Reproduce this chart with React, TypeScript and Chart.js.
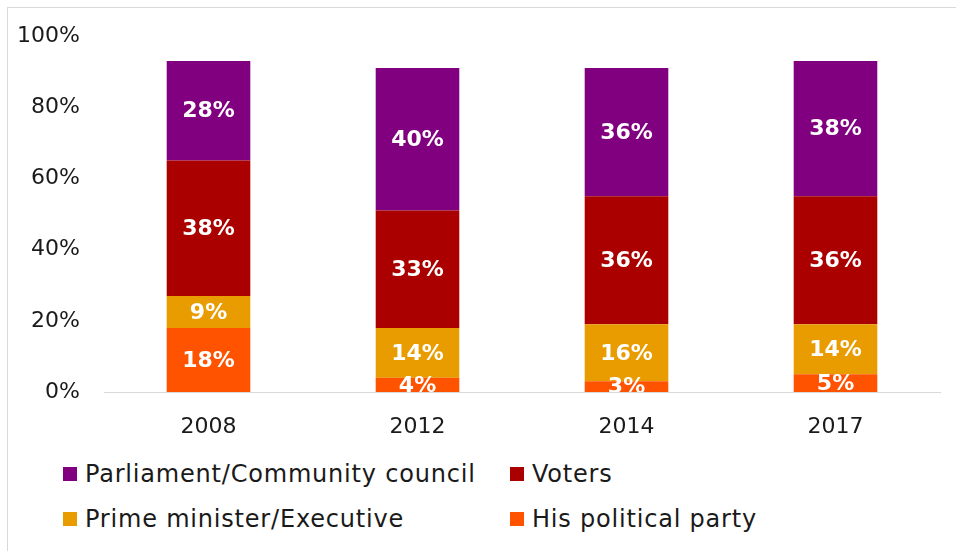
import React, { useEffect, useRef } from "react";
import { Chart, registerables } from "chart.js";

Chart.register(...registerables);

const categories = ["2008", "2012", "2014", "2017"];
const seriesNames = [
  "His political party",
  "Prime minister/Executive",
  "Voters",
  "Parliament/Community council",
];
const partyValues = [18, 4, 3, 5];
const primeMinisterValues = [9, 14, 16, 14];
const votersValues = [38, 33, 36, 36];
const parliamentValues = [28, 40, 36, 38];
const seriesColors = ["#FF5300", "#E89C00", "#AA0000", "#800080"];
const yTickValues = [0, 20, 40, 60, 80, 100];

const legendRows = [
  [
    { name: "Parliament/Community council", color: "#800080" },
    { name: "Voters", color: "#AA0000" },
  ],
  [
    { name: "Prime minister/Executive", color: "#E89C00" },
    { name: "His political party", color: "#FF5300" },
  ],
];

const FONT = "'DejaVu Sans', sans-serif";

const labelPlugin = {
  id: "barLabels",
  afterDatasetsDraw(chart: any) {
    const ctx = chart.ctx;
    const area = chart.chartArea;
    ctx.save();
    ctx.beginPath();
    ctx.rect(area.left, area.top, area.right - area.left, area.bottom - area.top);
    ctx.clip();
    ctx.fillStyle = "#ffffff";
    ctx.font = `bold 22px ${FONT}`;
    ctx.textAlign = "center";
    ctx.textBaseline = "middle";
    chart.data.datasets.forEach((ds: any, di: number) => {
      const meta = chart.getDatasetMeta(di);
      meta.data.forEach((el: any, i: number) => {
        const v = ds.data[i];
        const y = (el.y + el.base) / 2;
        ctx.fillText(`${v}%`, el.x, y + 1);
      });
    });
    ctx.restore();
  },
};

export default function App() {
  const ref = useRef<HTMLCanvasElement | null>(null);

  useEffect(() => {
    if (!ref.current) return;
    const chart = new Chart(ref.current, {
      type: "bar",
      data: {
        labels: categories,
        datasets: [
          { label: seriesNames[0], data: partyValues, backgroundColor: seriesColors[0] },
          { label: seriesNames[1], data: primeMinisterValues, backgroundColor: seriesColors[1] },
          { label: seriesNames[2], data: votersValues, backgroundColor: seriesColors[2] },
          { label: seriesNames[3], data: parliamentValues, backgroundColor: seriesColors[3] },
        ],
      },
      options: {
        responsive: false,
        animation: false,
        layout: { padding: { top: 28, right: 16, left: 0, bottom: 0 } },
        plugins: {
          legend: { display: false },
          tooltip: { enabled: false },
        },
        datasets: {
          bar: { categoryPercentage: 0.4, barPercentage: 1 },
        },
        scales: {
          x: {
            stacked: true,
            grid: { display: false, drawTicks: false },
            border: { display: true, color: "#d9d9d9", width: 1 },
            ticks: {
              color: "#1a1a1a",
              font: { family: FONT, size: 22 },
              padding: 22,
            },
            afterFit(scale: any) {
              scale.height = 56;
              scale.paddingLeft = 0;
              scale.paddingRight = 0;
            },
          },
          y: {
            stacked: true,
            min: 0,
            max: 100,
            grid: { display: false, drawTicks: false },
            border: { display: false },
            afterBuildTicks(scale: any) {
              scale.ticks = yTickValues.map((v) => ({ value: v }));
            },
            ticks: {
              color: "#1a1a1a",
              font: { family: FONT, size: 22 },
              padding: 24,
              callback: (v: any) => `${v}%`,
            },
            afterFit(scale: any) {
              scale.width = 96;
              scale.paddingTop = 0;
              scale.paddingBottom = 0;
            },
          },
        },
      },
      plugins: [labelPlugin],
    });
    return () => chart.destroy();
  }, []);

  return (
    <div
      style={{
        position: "absolute",
        left: 7,
        top: 7,
        width: 949,
        height: 544,
        borderTop: "1px solid #d9d9d9",
        borderLeft: "1px solid #d9d9d9",
        background: "#fff",
      }}
    >
      <canvas ref={ref} width={948} height={440} style={{ position: "absolute", left: 0, top: 0 }} />
      {legendRows.map((row, ri) =>
        row.map((item, ci) => (
          <div
            key={`${ri}-${ci}`}
            style={{
              position: "absolute",
              left: ci === 0 ? 55 : 502,
              top: ri === 0 ? 451 : 496,
              height: 30,
              display: "flex",
              alignItems: "center",
              fontFamily: FONT,
              fontSize: 24,
              letterSpacing: 0.8,
              color: "#1a1a1a",
              whiteSpace: "nowrap",
            }}
          >
            <span
              style={{
                display: "inline-block",
                width: 14,
                height: 14,
                background: item.color,
                marginRight: 8,
              }}
            />
            <span>{item.name}</span>
          </div>
        ))
      )}
    </div>
  );
}
